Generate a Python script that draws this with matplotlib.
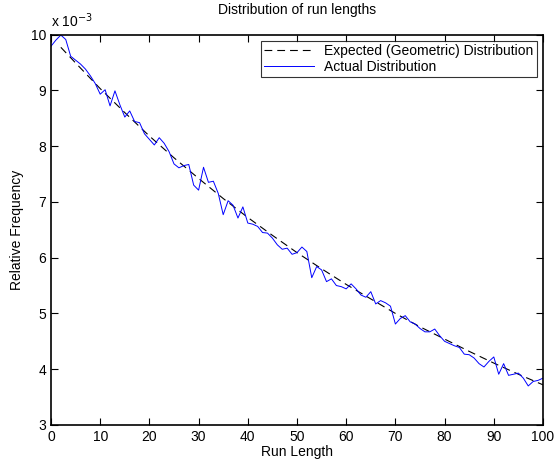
import matplotlib
matplotlib.use("Agg")
import matplotlib.pyplot as plt

plt.rcParams['font.family'] = ['Liberation Sans', 'DejaVu Sans']

# Actual distribution, run lengths 0..100 (values in units of 1e-3)
run_length = list(range(0, 101))
actual = [
    9.79, 9.90, 9.99, 9.91, 9.61, 9.54, 9.47, 9.38, 9.26, 9.12,
    8.93, 9.01, 8.72, 8.99, 8.74, 8.52, 8.63, 8.44, 8.42, 8.22,
    8.12, 8.02, 8.15, 8.05, 7.90, 7.68, 7.61, 7.65, 7.67, 7.30,
    7.21, 7.62, 7.35, 7.37, 7.15, 6.77, 7.02, 6.94, 6.71, 6.91,
    6.62, 6.60, 6.56, 6.45, 6.44, 6.35, 6.23, 6.15, 6.17, 6.06,
    6.09, 6.19, 6.11, 5.64, 5.84, 5.78, 5.57, 5.62, 5.50, 5.48,
    5.44, 5.53, 5.44, 5.33, 5.29, 5.39, 5.17, 5.23, 5.19, 5.13,
    4.81, 4.91, 4.96, 4.85, 4.81, 4.73, 4.67, 4.67, 4.72, 4.60,
    4.50, 4.46, 4.42, 4.39, 4.27, 4.26, 4.20, 4.10, 4.04, 4.14,
    4.22, 3.91, 4.10, 3.89, 3.91, 3.93, 3.84, 3.70, 3.78, 3.80,
    3.84,
]

# Expected (geometric) distribution
expected_x = [2, 5, 10, 15, 20, 25, 30, 35, 40, 45, 50,
              55, 60, 65, 70, 75, 80, 85, 90, 95, 100]
expected = [9.77, 9.49, 9.03, 8.60, 8.18, 7.79, 7.42, 7.06, 6.72, 6.40, 6.09,
            5.80, 5.52, 5.26, 5.00, 4.76, 4.54, 4.32, 4.11, 3.91, 3.72]

fig = plt.figure(figsize=(5.54, 4.62), dpi=100)
ax = fig.add_axes([51 / 554, 1 - 425 / 462, 492 / 554, 390.5 / 462])

ax.plot(expected_x, expected, color='black', linestyle=(0, (7, 4.5)),
        linewidth=0.8, label='Expected (Geometric) Distribution')
ax.plot(run_length, actual, color='blue', linewidth=0.7,
        label='Actual Distribution')

ax.set_xlim(0, 100)
ax.set_ylim(3, 10)
ax.set_xticks(range(0, 101, 10))
ax.set_yticks(range(3, 11))
ax.tick_params(direction='in', top=True, right=True, length=5,
               labelsize=10, width=0.8)
for s in ax.spines.values():
    s.set_linewidth(1.2)

ax.set_title('Distribution of run lengths', fontsize=10, pad=15)
ax.set_xlabel('Run Length', fontsize=10, labelpad=1)
ax.set_ylabel('Relative Frequency', fontsize=10, labelpad=5)
ax.text(0.0, 1.012, r'x 10$^{-3}$', transform=ax.transAxes, fontsize=10,
        ha='left', va='bottom')

leg = ax.legend(loc='upper right', fontsize=10, frameon=True, fancybox=False,
                borderaxespad=0.45, handlelength=3.6, handletextpad=0.7,
                borderpad=0.25, labelspacing=0.1)
leg.get_frame().set_edgecolor('black')
leg.get_frame().set_linewidth(0.8)

fig.savefig('out.png', dpi=100)
